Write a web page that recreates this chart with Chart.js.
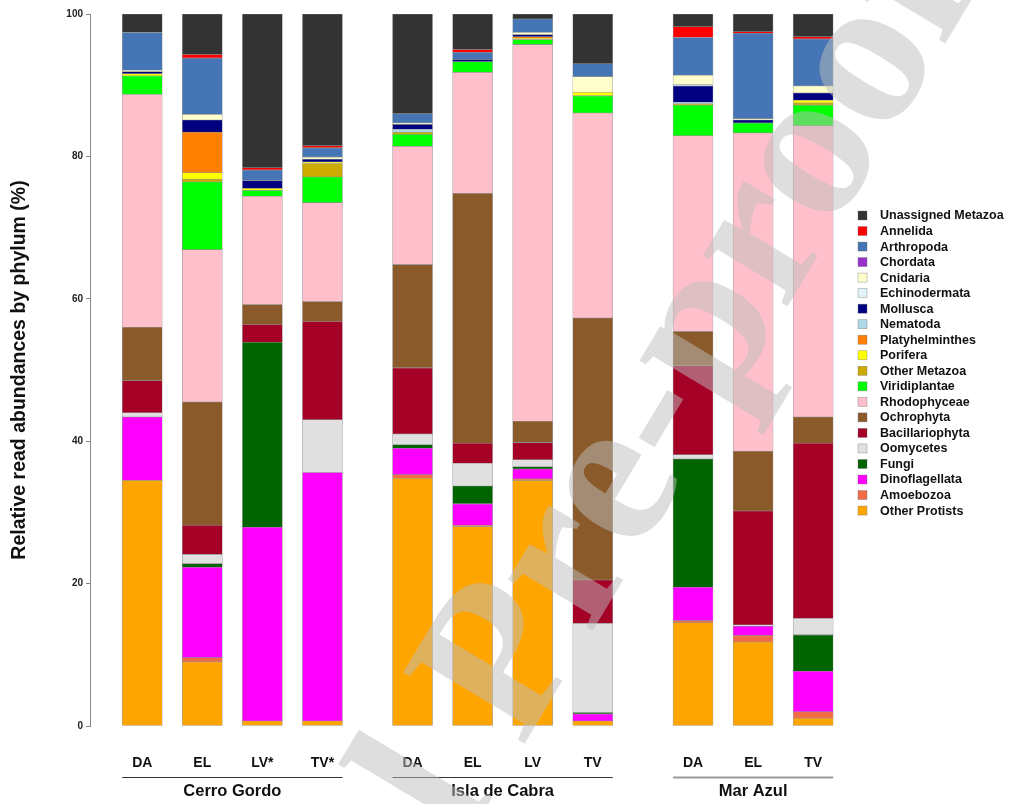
<!DOCTYPE html>
<html>
<head>
<meta charset="utf-8">
<script src="https://cdn.jsdelivr.net/npm/chart.js@4.4.0/dist/chart.umd.min.js"></script>
<style>
  html, body { margin: 0; padding: 0; background: #fff; }
  #wrap { width: 1010px; height: 804px; position: relative; }
</style>
</head>
<body>
<div id="wrap"><canvas id="chart"></canvas></div>
<script>
// sites and their samples, in drawing order
const sites = ['Cerro Gordo', 'Isla de Cabra', 'Mar Azul'];
const samples = [['DA', 'EL', 'LV*', 'TV*'], ['DA', 'EL', 'LV', 'TV'], ['DA', 'EL', 'TV']];

// phyla, bottom of the stack first
const phyla = ['Other Protists', 'Amoebozoa', 'Dinoflagellata', 'Fungi', 'Oomycetes',
  'Bacillariophyta', 'Ochrophyta', 'Rhodophyceae', 'Viridiplantae', 'Other Metazoa',
  'Porifera', 'Platyhelminthes', 'Nematoda', 'Mollusca', 'Echinodermata', 'Cnidaria',
  'Chordata', 'Arthropoda', 'Annelida', 'Unassigned Metazoa'];

const phylaColors = ['#FFA500', '#F26C45', '#FF00FF', '#006400', '#E0E0E0',
  '#A50026', '#8B5A2B', '#FFC0CB', '#00FF00', '#CCAA00',
  '#FFFF00', '#FF7F00', '#ADD8E6', '#000080', '#E0F3F8', '#FFFFCC',
  '#9932CC', '#4575B4', '#FF0000', '#333333'];

// % of reads, one value per sample (CG DA, EL, LV*, TV*, IC DA, EL, LV, TV, MA DA, EL, TV)
const otherProtists   = [34.5,  9.0,  0.7,  0.7, 34.8, 28.0, 34.5,  0.7, 14.5, 11.8,  1.1];
const amoebozoa       = [ 0,    0.6,  0,    0,    0.5,  0.2,  0.2,  0,    0.3,  0.9,  0.9];
const dinoflagellata  = [ 8.9, 12.7, 27.2, 34.9,  3.7,  3.0,  1.4,  1.0,  4.7,  1.3,  5.7];
const fungi           = [ 0,    0.5, 26.0,  0,    0.5,  2.5,  0.3,  0.2, 18.0,  0,    5.1];
const oomycetes       = [ 0.6,  1.3,  0,    7.4,  1.5,  3.2,  1.0, 12.5,  0.6,  0.2,  2.3];
const bacillariophyta = [ 4.5,  4.1,  2.5, 13.8,  9.3,  2.8,  2.4,  6.1, 12.5, 16.0, 24.6];
const ochrophyta      = [ 7.5, 17.3,  2.8,  2.8, 14.5, 35.1,  3.0, 36.8,  4.8,  8.4,  3.7];
const rhodophyceae    = [32.7, 21.4, 15.2, 13.9, 16.6, 17.0, 52.9, 28.8, 27.5, 44.7, 40.9];
const viridiplantae   = [ 2.6,  9.5,  0.8,  3.6,  1.7,  1.5,  0.7,  2.4,  4.3,  1.4,  2.9];
const otherMetazoa    = [ 0,    0.4,  0,    1.9,  0.3,  0,    0,    0,    0.2,  0,    0.3];
const porifera        = [ 0.3,  0.9,  0.3,  0.2,  0,    0,    0.2,  0.5,  0,    0,    0.4];
const platyhelminthes = [ 0,    5.7,  0,    0,    0,    0,    0.2,  0,    0,    0,    0];
const nematoda        = [ 0,    0,    0,    0,    0.4,  0,    0,    0,    0.2,  0,    0];
const mollusca        = [ 0.3,  1.7,  1.1,  0.4,  0.7,  0.3,  0.3,  0,    2.3,  0.4,  1.0];
const echinodermata   = [ 0,    0,    0,    0,    0,    0,    0,    0,    0.2,  0,    0];
const cnidaria        = [ 0.2,  0.8,  0,    0.3,  0.2,  0,    0.3,  2.2,  1.3,  0.2,  1.0];
const chordata        = [ 0,    0,    0,    0,    0,    0,    0,    0,    0,    0,    0];
const arthropoda      = [ 5.3,  7.9,  1.5,  1.3,  1.3,  1.0,  1.9,  1.8,  5.3, 12.0,  6.6];
const annelida        = [ 0,    0.5,  0.3,  0.3,  0,    0.4,  0,    0,    1.5,  0.2,  0.3];
const unassignedMetazoa = [2.6, 5.7, 21.6, 18.5, 14.0,  5.0,  0.7,  7.0,  1.8,  2.5,  3.2];

const seriesValues = [otherProtists, amoebozoa, dinoflagellata, fungi, oomycetes,
  bacillariophyta, ochrophyta, rhodophyceae, viridiplantae, otherMetazoa,
  porifera, platyhelminthes, nematoda, mollusca, echinodermata, cnidaria,
  chordata, arthropoda, annelida, unassignedMetazoa];

const yTicks = [0, 20, 40, 60, 80, 100];

// layout: where each site's block of bars starts on the x scale
const siteStart = [0, 4.5, 9.17];
const positions = [];
const sampleLabels = [];
samples.forEach((list, s) => list.forEach((lab, i) => {
  positions.push(siteStart[s] + i);
  sampleLabels.push(lab);
}));

const sansFont = "'Liberation Sans', Arial, sans-serif";

const datasets = phyla.map((name, k) => ({
  label: name,
  data: seriesValues[k].map((v, i) => ({ x: positions[i], y: v })),
  backgroundColor: phylaColors[k],
  borderColor: 'rgba(140,140,140,0.85)',
  borderWidth: 0.6,
  borderSkipped: false,
  barThickness: 40
}));

const decorations = {
  id: 'decorations',
  afterDraw(chart) {
    const ctx = chart.ctx;
    const x = chart.scales.x;
    ctx.save();

    // site names with a rule above them
    let idx = 0;
    sites.forEach((site, s) => {
      const n = samples[s].length;
      const left = x.getPixelForValue(positions[idx]) - 20;
      const right = x.getPixelForValue(positions[idx + n - 1]) + 20;
      idx += n;
      ctx.beginPath();
      ctx.strokeStyle = s === 2 ? '#999' : '#333';
      ctx.lineWidth = s === 2 ? 2 : 1;
      ctx.moveTo(left, 777.5);
      ctx.lineTo(right, 777.5);
      ctx.stroke();
      ctx.fillStyle = '#111';
      ctx.font = 'bold 16.5px ' + sansFont;
      ctx.textAlign = 'center';
      ctx.textBaseline = 'middle';
      ctx.fillText(site, (left + right) / 2, 791);
    });

    // legend, top of the stack first
    ctx.font = 'bold 12.5px ' + sansFont;
    ctx.textAlign = 'left';
    ctx.textBaseline = 'middle';
    for (let r = 0; r < phyla.length; r++) {
      const k = phyla.length - 1 - r;
      const cy = 215.5 + r * 15.53;
      ctx.fillStyle = phylaColors[k];
      ctx.fillRect(858, cy - 4.5, 9, 9);
      ctx.strokeStyle = 'rgba(110,110,110,0.6)';
      ctx.lineWidth = 0.6;
      ctx.strokeRect(858, cy - 4.5, 9, 9);
      ctx.fillStyle = '#111';
      ctx.fillText(phyla[k], 880, cy + 0.5);
    }

    // "Journal Pre-proof" watermark
    ctx.translate(522, 748);
    ctx.rotate(-59 * Math.PI / 180);
    ctx.font = "bold 215px 'Liberation Serif', 'Times New Roman', serif";
    ctx.textAlign = 'left';
    ctx.textBaseline = 'alphabetic';
    const lead = ctx.measureText('Journal ').width;
    ctx.fillStyle = 'rgba(190,190,190,0.5)';
    ctx.fillText('Journal Pre-proof', -lead, 0);
    ctx.restore();
  }
};

new Chart(document.getElementById('chart'), {
  type: 'bar',
  data: { datasets: datasets },
  options: {
    responsive: true,
    maintainAspectRatio: false,
    animation: false,
    layout: { padding: { top: 14, right: 165, left: 0, bottom: 0 } },
    plugins: {
      legend: { display: false },
      tooltip: { enabled: false }
    },
    scales: {
      x: {
        type: 'linear',
        stacked: true,
        offset: false,
        min: -0.87,
        max: 11.7,
        afterBuildTicks(scale) { scale.ticks = positions.map(v => ({ value: v })); },
        afterFit(scale) { scale.height = 78; },
        ticks: {
          autoSkip: false,
          maxRotation: 0,
          padding: 21,
          color: '#111',
          font: { family: sansFont, weight: 'bold', size: 14 },
          callback: (value, i) => sampleLabels[i]
        },
        grid: { display: false },
        border: { display: false }
      },
      y: {
        stacked: true,
        min: 0,
        max: 100,
        afterBuildTicks(scale) { scale.ticks = yTicks.map(v => ({ value: v })); },
        afterFit(scale) { scale.width = 90; },
        ticks: {
          padding: 3,
          color: '#222',
          font: { family: sansFont, weight: 'bold', size: 10 }
        },
        grid: { drawOnChartArea: false, tickLength: 4, color: '#888' },
        border: { color: '#888' },
        title: {
          display: true,
          text: 'Relative read abundances by phylum (%)',
          color: '#111',
          font: { family: sansFont, weight: 'bold', size: 19.5 },
          padding: { top: 8, bottom: 0 }
        }
      }
    }
  },
  plugins: [decorations]
});
</script>
</body>
</html>
